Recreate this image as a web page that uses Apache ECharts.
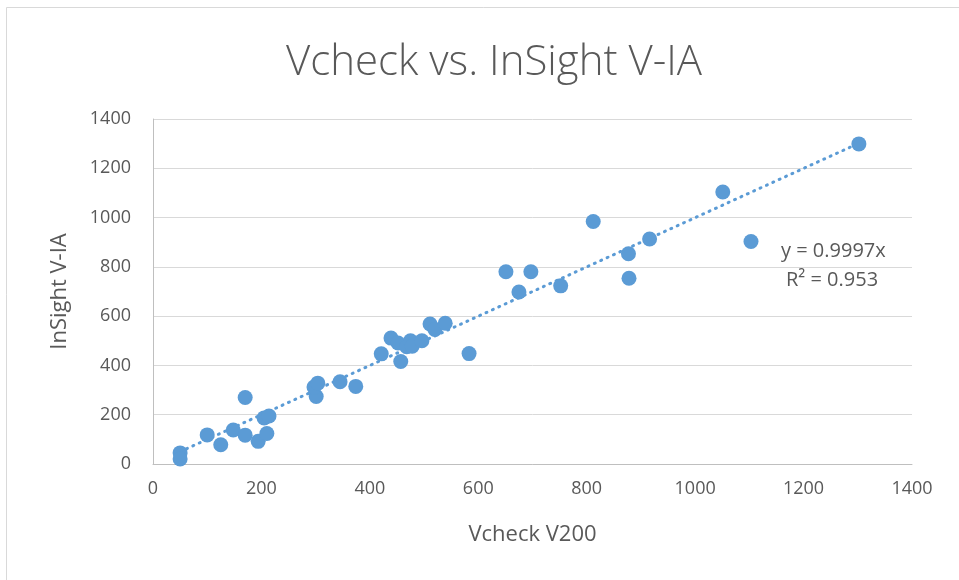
<!DOCTYPE html>
<html>
<head>
<meta charset="utf-8">
<script src="https://cdn.jsdelivr.net/npm/echarts@6/dist/echarts.min.js"></script>
<style>
  html, body { margin: 0; padding: 0; background: #fff; }
  #chart { width: 959px; height: 580px; }
</style>
</head>
<body>
<div id="chart"></div>
<script>
// Vcheck V200 readings (x) against InSight V-IA readings (y)
const vcheck = [50, 50, 100, 125, 148, 170, 170, 194, 205, 214, 210, 301, 297, 304, 345, 374,
  421, 439, 457, 452, 468, 475, 478, 496, 511, 520, 539, 583,
  651, 697, 675, 752, 812, 877, 878, 916, 1051, 1103, 1302];
const insight = [45, 20, 118, 78, 138, 270, 117, 92, 187, 195, 124, 274, 312, 328, 334, 315,
  447, 511, 416, 491, 476, 500, 478, 500, 568, 546, 571, 448,
  780, 780, 698, 723, 984, 853, 754, 913, 1104, 903, 1299];

const trendSlope = 0.9997;
const trendX = [50, 1302];
const xTicks = [0, 200, 400, 600, 800, 1000, 1200, 1400];

const points = vcheck.map((x, i) => [x, insight[i]]);
const trend = trendX.map(x => [x, x * trendSlope]);

const textColor = '#595959';
const font = '"Open Sans", "Liberation Sans", sans-serif';

const myChart = echarts.init(document.getElementById('chart'));
const option = {
  backgroundColor: '#fff',
  animation: false,
  title: {
    text: 'Vcheck vs. InSight V-IA',
    left: 489,
    top: 37,
    textAlign: 'center',
    textStyle: { color: textColor, fontSize: 42, fontWeight: 300, fontFamily: font }
  },
  graphic: [
    {
      type: 'rect',
      shape: { x: 6.5, y: 7.5, width: 960, height: 580 },
      style: { fill: 'none', stroke: '#d9d9d9', lineWidth: 1 }
    },
    {
      type: 'text', left: 781, top: 241,
      style: { text: 'y = 0.9997x', fill: textColor, fontSize: 20, fontFamily: font }
    },
    {
      type: 'text', left: 786, top: 270,
      style: { text: 'R² = 0.953', fill: textColor, fontSize: 20, fontFamily: font }
    }
  ],
  grid: { left: 153, right: 47, top: 119, bottom: 116 },
  xAxis: {
    type: 'value',
    min: xTicks[0],
    max: xTicks[xTicks.length - 1],
    interval: 200,
    name: 'Vcheck V200',
    nameLocation: 'middle',
    nameGap: 60,
    nameTextStyle: { color: textColor, fontSize: 22, fontFamily: font },
    axisLine: { show: true, lineStyle: { color: '#bfbfbf' } },
    axisTick: { show: false },
    splitLine: { show: false },
    axisLabel: { color: textColor, fontSize: 18, fontFamily: font, margin: 16, formatter: v => String(v) }
  },
  yAxis: {
    type: 'value',
    min: 0,
    max: 1400,
    interval: 200,
    name: 'InSight V-IA',
    nameLocation: 'middle',
    nameGap: 82,
    nameTextStyle: { color: textColor, fontSize: 22, fontFamily: font },
    axisLine: { show: true, lineStyle: { color: '#bfbfbf' } },
    axisTick: { show: false },
    splitLine: { show: true, lineStyle: { color: '#d9d9d9' } },
    axisLabel: { color: textColor, fontSize: 18, fontFamily: font, margin: 22, formatter: v => String(v) }
  },
  series: [
    {
      type: 'line',
      name: 'trend',
      data: trend,
      symbol: 'none',
      lineStyle: { color: '#5b9bd5', width: 3, type: [1, 6], cap: 'round' },
      z: 1
    },
    {
      type: 'scatter',
      name: 'InSight V-IA',
      data: points,
      symbolSize: 15,
      itemStyle: { color: '#5b9bd5', opacity: 1 },
      z: 2
    }
  ]
};
myChart.setOption(option);
</script>
</body>
</html>
